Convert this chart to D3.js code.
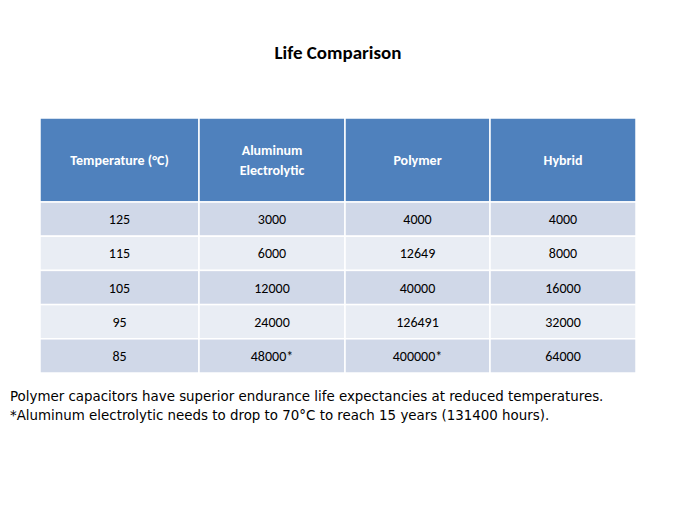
<!DOCTYPE html>
<html><head><meta charset="utf-8">
<script src="https://cdn.jsdelivr.net/npm/d3@7"></script>
<style>body{margin:0;background:#fff}</style>
</head><body>
<script>
// table content
var headers = [["Temperature (°C)"], ["Aluminum", "Electrolytic"], ["Polymer"], ["Hybrid"]];
var temps = ["125", "115", "105", "95", "85"];
var aluminum = ["3000", "6000", "12000", "24000", "48000*"];
var polymer = ["4000", "12649", "40000", "126491", "400000*"];
var hybrid = ["4000", "8000", "16000", "32000", "64000"];
var notes = ["Polymer capacitors have superior endurance life expectancies at reduced temperatures.",
             "*Aluminum electrolytic needs to drop to 70°C to reach 15 years (131400 hours)."];

var rows = temps.map(function(t, i) { return [t, aluminum[i], polymer[i], hybrid[i]]; });

var svg = d3.select("body").append("svg").attr("width", 675).attr("height", 506)
    .style("font-family", "Calibri, Carlito, 'Liberation Sans', Arial, sans-serif");

svg.append("text").attr("x", 338).attr("y", 59).attr("text-anchor", "middle")
    .style("font-weight", "bold").style("font-size", "19px").text("Life Comparison");

//column edges by index
var x = d3.scaleLinear().domain([0, 1, 2, 3, 4]).range([40, 199, 345, 490, 636]);
var y = d3.scaleBand().domain(d3.range(rows.length)).range([202, 373]);
var headTop = 118;

// header
var hg = svg.append("g");
hg.selectAll("rect").data(headers).enter().append("rect")
    .attr("x", function(d, i) { return x(i); }).attr("y", headTop)
    .attr("width", function(d, i) { return x(i + 1) - x(i); }).attr("height", y.range()[0] - headTop)
    .attr("fill", "#4f81bd").attr("stroke", "#fff").attr("stroke-width", 1.5);
hg.selectAll("text").data(headers).enter().append("text")
    .attr("x", function(d, i) { return (x(i) + x(i + 1)) / 2; })
    .attr("y", function(d) { return (headTop + y.range()[0]) / 2 + 5 - (d.length - 1) * 10; })
    .attr("text-anchor", "middle").attr("fill", "#fff")
    .style("font-weight", "bold").style("font-size", "14px")
    .each(function(d) {
        var t = d3.select(this);
        d.forEach(function(line, j) {
            t.append("tspan").attr("x", t.attr("x")).attr("dy", j ? 20 : 0).text(line);
        });
    });

// body
var rg = svg.selectAll("g.row").data(rows).enter().append("g").attr("class", "row");
rg.selectAll("rect").data(function(d, i) { return d.map(function(v) { return {v: v, r: i}; }); })
  .enter().append("rect")
    .attr("x", function(d, i) { return x(i); }).attr("y", function(d) { return y(d.r); })
    .attr("width", function(d, i) { return x(i + 1) - x(i); }).attr("height", y.bandwidth())
    .attr("fill", function(d) { return d.r % 2 ? "#e9edf4" : "#d0d8e8"; })
    .attr("stroke", "#fff").attr("stroke-width", 1.5);
rg.selectAll("text").data(function(d, i) { return d.map(function(v) { return {v: v, r: i}; }); })
  .enter().append("text")
    .attr("x", function(d, i) { return (x(i) + x(i + 1)) / 2; })
    .attr("y", function(d) { return y(d.r) + y.bandwidth() / 2 + 5; })
    .attr("text-anchor", "middle").style("font-size", "14px").attr("fill", "#000")
    .text(function(d) { return d.v; });

svg.selectAll("text.note").data(notes).enter().append("text").attr("class", "note")
    .attr("x", 10).attr("y", function(d, i) { return 401 + i * 19; })
    .style("font-family", "'DejaVu Sans', Verdana, sans-serif").style("font-size", "13.4px")
    .text(function(d) { return d; });
</script>
</body></html>
